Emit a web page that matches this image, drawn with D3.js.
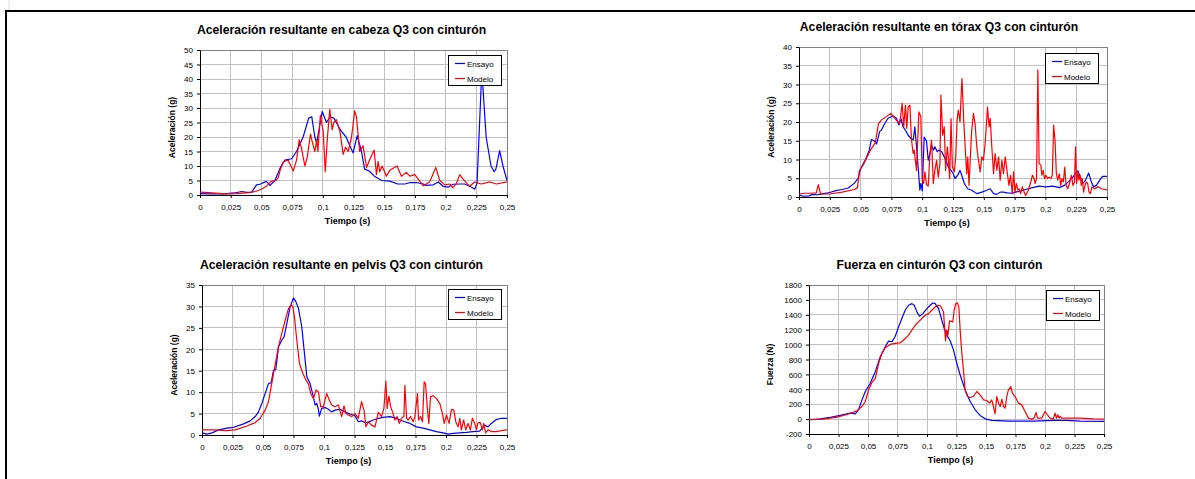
<!DOCTYPE html>
<html>
<head>
<meta charset="utf-8">
<script src="https://cdn.jsdelivr.net/npm/d3@7"></script>
<style>
  body { margin: 0; background: #fff; }
  svg text { font-family: "Liberation Sans", Arial, sans-serif; }
</style>
</head>
<body>
<div class="chart"></div>
<script>
// eje X común (tiempo en s)
const xTicks = [0, 0.025, 0.05, 0.075, 0.1, 0.125, 0.15, 0.175, 0.2, 0.225, 0.25];

// ticks de los ejes Y
const yTicksCabeza = [0, 5, 10, 15, 20, 25, 30, 35, 40, 45, 50];
const yTicksTorax = [0, 5, 10, 15, 20, 25, 30, 35, 40];
const yTicksPelvis = [0, 5, 10, 15, 20, 25, 30, 35];
const yTicksCinturon = [-200, 0, 200, 400, 600, 800, 1000, 1200, 1400, 1600, 1800];

const seriesNames = ["Ensayo", "Modelo"];

// cabeza [t, g]
const cabezaEnsayo = [[0,0.5],[0.01,0.4],[0.02,0.4],[0.028,0.7],[0.034,1.2],[0.038,0.9],[0.042,0.9],[0.046,3.5],[0.0488,3.7],[0.054,4.7],[0.057,3.3],[0.061,5],[0.066,10],[0.069,12],[0.0746,12.5],[0.0786,15],[0.084,20],[0.0885,26.5],[0.091,27],[0.0935,20],[0.095,18],[0.0995,28.8],[0.103,25],[0.106,27],[0.109,26.5],[0.111,25],[0.115,22],[0.119,20],[0.122,17],[0.1247,14.5],[0.128,20.5],[0.1315,15],[0.134,9],[0.138,8.2],[0.142,6.5],[0.148,5],[0.1545,4.8],[0.161,3.8],[0.167,3.8],[0.171,4.3],[0.176,4.3],[0.182,3.8],[0.184,3.3],[0.19,3.5],[0.194,4.5],[0.198,3],[0.202,2.7],[0.206,3.7],[0.2115,3.8],[0.2155,3.8],[0.2196,3],[0.222,2.5],[0.2237,2],[0.2256,4],[0.2295,43],[0.233,20],[0.237,10],[0.2395,8],[0.241,9],[0.244,15.3],[0.2467,10],[0.25,5]];
const cabezaModelo = [[0,1],[0.01,0.7],[0.02,0.4],[0.03,0.5],[0.04,0.8],[0.045,1.2],[0.05,2],[0.054,3],[0.058,4.8],[0.062,5],[0.0637,6],[0.0656,9],[0.068,11.5],[0.0718,12],[0.074,10],[0.076,8.3],[0.0786,12],[0.0808,19],[0.0827,16],[0.0854,10],[0.0873,13],[0.09,21],[0.0916,18],[0.0935,15],[0.095,19],[0.096,15],[0.098,27.5],[0.1003,22],[0.102,8],[0.1038,20],[0.1057,29.5],[0.1076,22.5],[0.109,25],[0.111,26],[0.1139,22],[0.1166,14],[0.1185,16.5],[0.1207,15],[0.1234,20],[0.126,29],[0.1274,27],[0.13,15],[0.1328,17],[0.1356,9.5],[0.138,12],[0.1418,15.5],[0.1437,7],[0.145,11.5],[0.1464,8],[0.1483,10],[0.1518,6.5],[0.1545,8.5],[0.1605,10],[0.164,6.5],[0.168,7.8],[0.1708,6.5],[0.1749,7],[0.1817,3.2],[0.187,4.5],[0.192,9.5],[0.1952,5],[0.1993,3.5],[0.2033,3.8],[0.206,2.5],[0.2088,4],[0.2115,7],[0.2142,5.5],[0.2196,3],[0.2237,4.5],[0.229,3.8],[0.236,4.5],[0.2413,3.8],[0.25,4.5]];

// tórax [t, g]
const toraxEnsayo = [[0,0.5],[0.004,0.2],[0.008,0.3],[0.011,0.7],[0.015,0.6],[0.02,0.9],[0.025,1.2],[0.03,1.7],[0.035,2.0],[0.04,2.4],[0.045,3.7],[0.048,5],[0.05,7.5],[0.054,10],[0.057,12.5],[0.0588,15.3],[0.061,15],[0.063,14.2],[0.0655,17.5],[0.0668,17.8],[0.0696,19.6],[0.0723,21],[0.0764,21.6],[0.0791,21],[0.081,19.2],[0.0826,21],[0.0845,18.7],[0.0864,17.8],[0.0886,16.5],[0.0908,15.6],[0.0927,15.2],[0.094,18.7],[0.0954,13.4],[0.0967,8],[0.0981,1.8],[0.0989,3.6],[0.1,1.6],[0.1016,16],[0.1035,14.9],[0.1049,9.8],[0.1063,11.6],[0.1076,13.8],[0.109,12.5],[0.1103,13.4],[0.1122,12.1],[0.1136,12.5],[0.1158,12.1],[0.1179,10.7],[0.1198,9.4],[0.1212,8],[0.1234,7.1],[0.1253,6.2],[0.1266,4.9],[0.1288,5.8],[0.1307,7.1],[0.1321,5.8],[0.1342,3.6],[0.1369,2.2],[0.1402,1.8],[0.1443,0.9],[0.1484,1.3],[0.1524,1.8],[0.1552,2.2],[0.1579,0.9],[0.1606,0.7],[0.1633,1.3],[0.166,1.3],[0.169,1.1],[0.1731,1.0],[0.1758,1.3],[0.1799,1.6],[0.184,2.0],[0.1895,2.5],[0.1949,2.9],[0.2004,2.7],[0.2059,2.9],[0.2113,2.5],[0.2154,3.1],[0.2195,4.3],[0.2236,5.8],[0.2264,7],[0.2283,5.3],[0.2305,3.6],[0.2326,4.5],[0.2351,6.4],[0.2373,4],[0.2392,2.7],[0.2414,3.1],[0.2441,4.5],[0.2463,5.5],[0.25,5.5]];
const toraxModelo = [[0,0.8],[0.005,1],[0.01,1],[0.014,1.1],[0.0157,3.3],[0.0175,0.8],[0.025,0.8],[0.035,1.3],[0.045,2],[0.0475,2.5],[0.049,7],[0.052,8.5],[0.055,10.5],[0.058,12.5],[0.062,14.5],[0.0645,19.5],[0.0668,20.5],[0.0745,22.3],[0.079,20.5],[0.0818,19.6],[0.0837,25],[0.085,18.7],[0.0864,24.5],[0.0875,18.3],[0.0886,24],[0.09,24.5],[0.0913,15.2],[0.0927,11.6],[0.0935,12.5],[0.0954,7.1],[0.0973,22.7],[0.0989,21.4],[0.1,4.5],[0.1011,3.6],[0.1022,6.7],[0.1035,3.3],[0.1049,2.9],[0.1063,11.6],[0.1076,15.2],[0.109,3.6],[0.1103,7.1],[0.1117,9.8],[0.113,5.3],[0.1144,8.9],[0.1152,27.2],[0.1166,16.5],[0.1179,18.7],[0.119,7.1],[0.1204,13.4],[0.1212,10.7],[0.1223,4.9],[0.1234,20.9],[0.1245,8],[0.1261,6.7],[0.1272,10.7],[0.1283,20.5],[0.1293,23.2],[0.1307,20],[0.1315,26.3],[0.1323,31.6],[0.1337,20.5],[0.1348,13.8],[0.1361,6.2],[0.137,10.7],[0.138,3.1],[0.1391,10.7],[0.1402,17.8],[0.1416,22.3],[0.1429,19.6],[0.1443,13.4],[0.1457,9.8],[0.147,6.7],[0.1484,10.7],[0.1497,9.8],[0.1511,14.3],[0.153,24],[0.1543,18.7],[0.1552,21],[0.1565,13.4],[0.1579,6.2],[0.1592,11.6],[0.1606,7.1],[0.162,10.7],[0.1633,4.5],[0.1647,9.8],[0.166,6.2],[0.1674,10.7],[0.1688,7.1],[0.1704,3.1],[0.1717,5.8],[0.1731,0.9],[0.1742,6.7],[0.1753,1.3],[0.1764,3.6],[0.1777,1.8],[0.1786,2.2],[0.1799,0.9],[0.1813,2.7],[0.1827,1.3],[0.184,0.4],[0.1862,1.8],[0.1881,4],[0.1895,5.8],[0.1908,4.9],[0.1917,3.6],[0.1928,4.9],[0.1939,33.9],[0.1949,8.9],[0.1963,8.5],[0.1971,5.8],[0.1982,7.1],[0.1993,4.9],[0.2004,5.8],[0.2018,4.9],[0.2031,5.3],[0.2045,4.9],[0.2056,5.8],[0.2067,19.2],[0.2078,15.2],[0.2089,6.2],[0.21,4.5],[0.2113,6.2],[0.2124,3.1],[0.2135,4.9],[0.2146,4],[0.2157,8],[0.2168,3.1],[0.2182,2.2],[0.2195,3.6],[0.2212,5.8],[0.2223,3.1],[0.2236,4],[0.2245,13.4],[0.2253,3.6],[0.2264,6.7],[0.2272,4.5],[0.2283,5.8],[0.2291,3.1],[0.2299,4.9],[0.231,1.3],[0.2321,3.1],[0.2332,4],[0.2343,3.6],[0.2354,1.3],[0.2365,0.9],[0.2378,2.7],[0.24,2.2],[0.2428,2.7],[0.2455,2.2],[0.25,1.9]];

// pelvis [t, g]
const pelvisEnsayo = [[0,0.5],[0.0041,0.2],[0.0082,0.5],[0.0136,1.2],[0.0204,1.6],[0.0259,1.8],[0.0341,2.6],[0.0395,3.3],[0.0436,4.3],[0.0463,5.4],[0.0491,7.4],[0.0518,9.7],[0.0545,12],[0.0567,12.2],[0.0586,15.1],[0.0605,15.3],[0.0627,20.6],[0.0654,22.1],[0.0673,22.9],[0.0695,26],[0.0722,29.9],[0.075,32],[0.0771,31],[0.0791,29.5],[0.0818,25.2],[0.0837,19.8],[0.0859,13.6],[0.0886,12],[0.0913,8.9],[0.0927,7],[0.094,7.4],[0.0954,6],[0.0962,4.4],[0.0981,6.2],[0.1009,6.4],[0.1036,6],[0.1063,5.4],[0.109,5.8],[0.1131,6],[0.1172,5.4],[0.1213,4.9],[0.1254,4.5],[0.1281,3.1],[0.1308,3.3],[0.1336,2.9],[0.1363,3],[0.1404,3.5],[0.1445,3.9],[0.1486,4.1],[0.154,4.3],[0.1581,4],[0.1622,3.5],[0.1663,3.1],[0.1704,2.7],[0.1758,1.9],[0.1813,1.6],[0.1867,1.2],[0.1922,0.8],[0.1976,0.5],[0.2017,0.2],[0.2058,0.4],[0.2113,0.5],[0.2167,0.6],[0.2222,0.8],[0.2276,0.9],[0.2317,2.3],[0.2344,1.9],[0.2372,2.7],[0.2412,3.6],[0.2453,3.9],[0.25,3.9]];
const pelvisModelo = [[0,1.2],[0.0095,1.2],[0.0204,1.0],[0.0273,1.2],[0.0368,2.1],[0.0436,2.9],[0.0477,3.9],[0.0518,5.8],[0.0545,7.8],[0.0567,11.3],[0.0594,15.5],[0.0627,20.6],[0.0654,23.7],[0.0682,26.8],[0.0709,29.5],[0.0731,30.3],[0.0744,30],[0.0758,27.5],[0.0777,22.1],[0.0799,16.7],[0.0826,14.4],[0.0853,12.8],[0.0872,12],[0.0891,9.7],[0.0913,8.5],[0.0935,10.5],[0.0954,10.1],[0.0973,6.6],[0.0995,6.6],[0.1022,9.7],[0.1044,8.1],[0.1063,7],[0.109,6.6],[0.1118,7],[0.1145,4.3],[0.1164,6.8],[0.118,5],[0.1199,4.7],[0.1227,4.3],[0.1254,5],[0.1281,3.9],[0.1308,7.8],[0.1328,5.8],[0.1344,1.9],[0.1363,3.1],[0.139,2.3],[0.1418,1.9],[0.1445,5.3],[0.1472,4.3],[0.1491,6.2],[0.1507,12.6],[0.1518,6.2],[0.1532,9.1],[0.1546,6.6],[0.1562,5.4],[0.1581,3.5],[0.16,4.3],[0.1617,2.7],[0.1636,3.9],[0.1655,4.3],[0.1663,11.6],[0.1677,3.9],[0.169,3.5],[0.1709,4.3],[0.1731,3.1],[0.1745,4.3],[0.1766,9.7],[0.1775,3.5],[0.1791,4.3],[0.1807,3.1],[0.1821,12.4],[0.1832,12],[0.1846,6.6],[0.1859,2.7],[0.1873,8.9],[0.1895,9.2],[0.1922,8.5],[0.1949,7.4],[0.1971,5],[0.1985,2.7],[0.2004,4.7],[0.2025,2.7],[0.2045,6],[0.2064,5.8],[0.208,3.1],[0.2099,1.9],[0.2113,3.9],[0.2126,1.2],[0.2145,3.5],[0.2162,1.2],[0.2181,2.7],[0.22,1.2],[0.2216,3.9],[0.2235,2.7],[0.2249,1.2],[0.2263,2.9],[0.2282,2.9],[0.2298,1.2],[0.2309,2.7],[0.2325,0.5],[0.2344,1.2],[0.2372,0.8],[0.2412,0.8],[0.2453,1.0],[0.25,1.2]];

// cinturón [t, N]
const cinturonEnsayo = [[0,-9],[0.0096,4],[0.0181,22],[0.0265,49],[0.035,80],[0.0392,71],[0.042,125],[0.0449,258],[0.0477,370],[0.0519,481],[0.0562,637],[0.0604,837],[0.0646,971],[0.0674,1047],[0.0703,1038],[0.0731,1113],[0.0759,1238],[0.0787,1350],[0.0815,1461],[0.0844,1528],[0.0872,1550],[0.0892,1528],[0.0914,1439],[0.0937,1381],[0.0965,1416],[0.0999,1483],[0.1027,1528],[0.105,1559],[0.1069,1550],[0.1098,1483],[0.1126,1327],[0.1146,1216],[0.1168,1127],[0.1196,1051],[0.1225,926],[0.1253,748],[0.1281,592],[0.1323,392],[0.1366,236],[0.1408,125],[0.145,49],[0.1493,4],[0.1549,-18],[0.1704,-27],[0.1902,-27],[0.2071,-18],[0.2184,-18],[0.2297,-27],[0.25,-31]];
const cinturonModelo = [[0,-9],[0.0124,0],[0.0237,27],[0.0322,62],[0.0406,111],[0.0449,169],[0.0477,236],[0.0505,392],[0.0533,490],[0.0562,548],[0.059,748],[0.0618,882],[0.0646,958],[0.0689,1002],[0.0731,1016],[0.0773,1024],[0.0807,1069],[0.0844,1127],[0.0872,1194],[0.09,1260],[0.0928,1305],[0.0957,1350],[0.0985,1394],[0.1013,1416],[0.1041,1461],[0.1069,1506],[0.1098,1528],[0.1117,1514],[0.114,1439],[0.1157,1051],[0.1168,1194],[0.1177,1127],[0.1191,1318],[0.1202,1314],[0.1219,1305],[0.123,1461],[0.1244,1550],[0.1258,1559],[0.127,1506],[0.1281,1194],[0.1295,882],[0.1309,659],[0.1323,392],[0.1343,303],[0.1366,290],[0.1394,303],[0.1422,370],[0.145,325],[0.1479,258],[0.1507,250],[0.1529,214],[0.1549,258],[0.1563,169],[0.1577,71],[0.1591,303],[0.1606,214],[0.162,169],[0.1634,267],[0.1648,169],[0.1662,147],[0.1676,303],[0.169,392],[0.171,436],[0.1724,347],[0.1747,303],[0.1775,214],[0.1803,191],[0.1831,102],[0.186,13],[0.1888,0],[0.1907,13],[0.1924,89],[0.1936,13],[0.1972,13],[0.2001,102],[0.202,58],[0.2043,13],[0.2071,4],[0.2085,80],[0.2097,13],[0.2108,58],[0.2119,13],[0.2128,36],[0.2142,13],[0.2184,13],[0.2297,13],[0.241,4],[0.25,0]];

// gráficos: textos, datos y caja del área de trazado
const charts = [
  { title: "Aceleración resultante en cabeza Q3 con cinturón", yLabel: "Aceleración (g)",
    yTicks: yTicksCabeza, series: [cabezaEnsayo, cabezaModelo],
    box: { l: 200, t: 50, r: 507, b: 195 }, legend: { x: 448, y: 55 }, labelGap: 25, titleDx: -12 },
  { title: "Aceleración resultante en tórax Q3 con cinturón", yLabel: "Aceleración (g)",
    yTicks: yTicksTorax, series: [toraxEnsayo, toraxModelo],
    box: { l: 799, t: 47, r: 1107, b: 197 }, legend: { x: 1045, y: 53 }, labelGap: 25, titleDx: -14 },
  { title: "Aceleración resultante en pelvis Q3 con cinturón", yLabel: "Aceleración (g)",
    yTicks: yTicksPelvis, series: [pelvisEnsayo, pelvisModelo],
    box: { l: 202, t: 285, r: 507, b: 435 }, legend: { x: 448, y: 289 }, labelGap: 25, titleDx: -13 },
  { title: "Fuerza en cinturón Q3 con cinturón", yLabel: "Fuerza (N)",
    yTicks: yTicksCinturon, series: [cinturonEnsayo, cinturonModelo],
    box: { l: 809, t: 285, r: 1104, b: 434 }, legend: { x: 1046, y: 290 }, labelGap: 36, titleDx: -17 }
];

const colors = ["#0000ff", "#ff0000"];
const fmt = d => String(d).replace(".", ",");

const svg = d3.select(".chart").append("svg")
  .attr("width", 1195).attr("height", 479)
  .style("display", "block");

svg.append("rect").attr("width", 1195).attr("height", 479).attr("fill", "#fff");

// marco exterior
svg.append("line").attr("x1", 9).attr("x2", 9).attr("y1", 0).attr("y2", 10)
  .attr("stroke", "#ddd").attr("stroke-width", 1);
svg.append("path").attr("d", "M6,479V11H1195")
  .attr("fill", "none").attr("stroke", "#000").attr("stroke-width", 2);

charts.forEach((c, i) => {
  const b = c.box;
  const x = d3.scaleLinear().domain([0, 0.25]).range([b.l, b.r]);
  const y = d3.scaleLinear().domain(d3.extent(c.yTicks)).range([b.b, b.t]);
  const g = svg.append("g");

  // rejilla
  g.append("g").selectAll("line").data(c.yTicks).join("line")
    .attr("x1", b.l).attr("x2", b.r).attr("y1", d => y(d)).attr("y2", d => y(d))
    .attr("stroke", "#c0c0c0").attr("stroke-width", 1).attr("shape-rendering", "crispEdges");
  g.append("g").selectAll("line").data(xTicks).join("line")
    .attr("y1", b.t).attr("y2", b.b).attr("x1", d => x(d)).attr("x2", d => x(d))
    .attr("stroke", "#c0c0c0").attr("stroke-width", 1).attr("shape-rendering", "crispEdges");

  g.append("rect").attr("x", b.l).attr("y", b.t)
    .attr("width", b.r - b.l).attr("height", b.b - b.t)
    .attr("fill", "none").attr("stroke", "#808080").attr("shape-rendering", "crispEdges");

  // ejes
  const ax = g.append("g").attr("transform", `translate(0,${b.b})`)
    .call(d3.axisBottom(x).tickValues(xTicks).tickFormat(fmt).tickSize(3).tickSizeOuter(0).tickPadding(6));
  const ay = g.append("g").attr("transform", `translate(${b.l},0)`)
    .call(d3.axisLeft(y).tickValues(c.yTicks).tickFormat(fmt).tickSize(3).tickSizeOuter(0).tickPadding(4));
  [ax, ay].forEach(a => {
    a.select(".domain").attr("stroke", "#000");
    a.selectAll(".tick line").attr("stroke", "#000");
    a.selectAll("text").attr("font-size", 8).attr("fill", "#000")
      .attr("font-family", "'Liberation Sans', Arial, sans-serif");
  });
  ay.selectAll(".tick text").attr("dy", "0.34em");

  // series
  const clipId = "clip" + i;
  svg.append("clipPath").attr("id", clipId).append("rect")
    .attr("x", b.l).attr("y", b.t - 1).attr("width", b.r - b.l).attr("height", b.b - b.t + 2);
  const line = d3.line().x(d => x(d[0])).y(d => y(d[1]));
  c.series.forEach((s, k) => {
    g.append("path").datum(s).attr("d", line)
      .attr("clip-path", `url(#${clipId})`)
      .attr("fill", "none").attr("stroke", colors[k]).attr("stroke-width", 1.2)
      .attr("stroke-linejoin", "round");
  });

  // títulos
  g.append("text").attr("x", (b.l + b.r) / 2 + c.titleDx).attr("y", b.t - 16)
    .attr("text-anchor", "middle").attr("font-size", 12.2).attr("font-weight", "bold")
    .text(c.title);
  g.append("text").attr("x", (b.l + b.r) / 2 - 6).attr("y", b.b + 29)
    .attr("text-anchor", "middle").attr("font-size", 9).attr("font-weight", "bold")
    .text("Tiempo (s)");
  g.append("text")
    .attr("transform", `translate(${b.l - c.labelGap},${(b.t + b.b) / 2 + 5}) rotate(-90)`)
    .attr("text-anchor", "middle").attr("font-size", 8.5).attr("font-weight", "bold")
    .text(c.yLabel);

  // leyenda
  const lg = g.append("g").attr("transform", `translate(${c.legend.x},${c.legend.y})`);
  lg.append("rect").attr("width", 53).attr("height", 30)
    .attr("fill", "#fff").attr("stroke", "#000").attr("shape-rendering", "crispEdges");
  seriesNames.forEach((n, k) => {
    const yy = 8.5 + k * 15;
    lg.append("line").attr("x1", 7).attr("x2", 17).attr("y1", yy).attr("y2", yy)
      .attr("stroke", colors[k]).attr("stroke-width", 1.2);
    lg.append("text").attr("x", 19).attr("y", yy + 3).attr("font-size", 8).text(n);
  });
});
</script>
</body>
</html>
